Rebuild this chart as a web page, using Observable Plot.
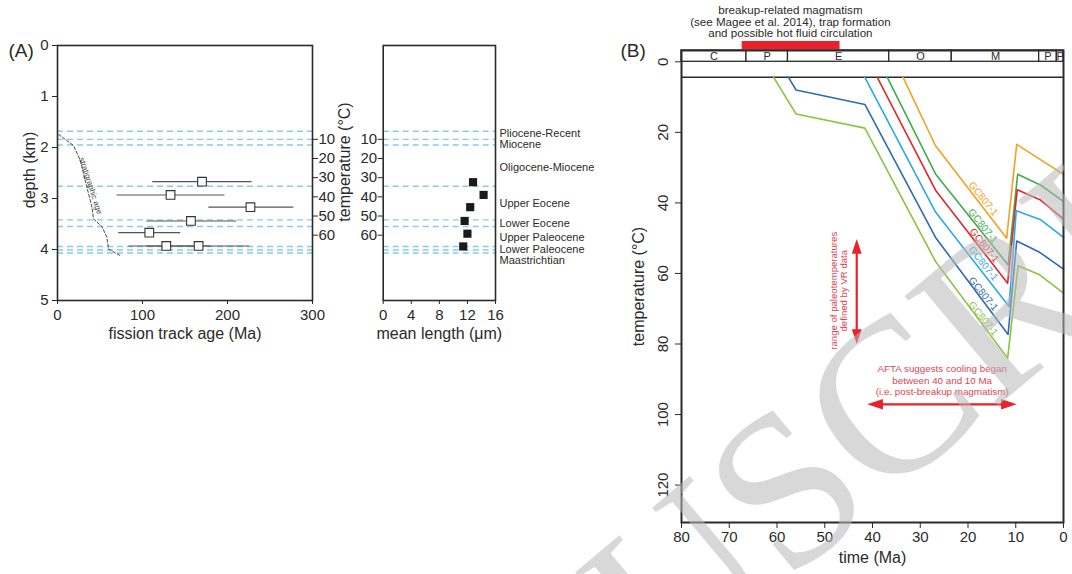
<!DOCTYPE html>
<html><head><meta charset="utf-8">
<script src="https://cdn.jsdelivr.net/npm/d3@7"></script>
<script src="https://cdn.jsdelivr.net/npm/@observablehq/plot@0.6"></script>
<style>
body{margin:0;background:#fff;}
#wrap{position:relative;width:1072px;height:574px;overflow:hidden;background:#fff;}
.panel{position:absolute;top:0;}
</style></head><body><div id="wrap"></div>
<script>
// ---------- Panel A data ----------
const depthTicks = [0, 1, 2, 3, 4, 5];
const ageTicks = [0, 100, 200, 300];
const lengthTicks = [0, 4, 8, 12, 16];
const tempTicksA = [10, 20, 30, 40, 50, 60];
const zeroDegDepthKm = 1.464;      // depth of 0 °C on the temperature scale
const gradientCPerKm = 26.6;       // present geothermal gradient
const horizonDepths = [1.68, 1.84, 1.95, 2.76, 3.42, 3.55, 3.94, 4.01, 4.07];
const epochNames = ["Pliocene-Recent", "Miocene", "Oligocene-Miocene", "Upper Eocene", "Lower Eocene", "Upper Paleocene", "Lower Paleocene", "Maastrichtian"];
const epochLabelDepths = [1.73, 1.94, 2.39, 3.10, 3.49, 3.77, 3.99, 4.21];
const stratAgeMa = [1.2, 18.8, 26.7, 34.6, 40.5, 42.4, 52.2, 58.1, 60.0, 73.8];
const stratAgeDepth = [1.745, 1.96, 2.25, 2.78, 3.17, 3.40, 3.55, 3.76, 3.99, 4.12];
const ftDepth = [2.67, 2.93, 3.17, 3.44, 3.67, 3.93, 3.93];
const ftAge = [170, 133, 227, 157, 108, 128, 166];
const ftAgeLow = [112, 70, 178, 105, 72, 84, 105];
const ftAgeHigh = [229, 197, 278, 211, 145, 180, 226];
const mtlDepth = [2.68, 2.93, 3.17, 3.44, 3.69, 3.94];
const mtlLength = [12.8, 14.3, 12.4, 11.6, 12.0, 11.4];

// ---------- Panel B data ----------
const timeTicks = [80, 70, 60, 50, 40, 30, 20, 10, 0];
const tempTicksB = [0, 20, 40, 60, 80, 100, 120];
const periodNames = ["C", "P", "E", "O", "M", "P", "P"];
const periodStart = [80, 66.4, 57.7, 36.5, 23.4, 5.1, 1.4];
const periodEnd = [66.4, 57.7, 36.5, 23.4, 5.1, 1.4, 0];
const surfaceTemp = 4.4;
const magmatismStart = 67.3, magmatismEnd = 46.8;
const magmatismText = "breakup-related magmatism\n(see Magee et al. 2014), trap formation\nand possible hot fluid circulation";
const seriesLabel = "GC807-1";
const seriesColors = ["#f4a021", "#3fab4c", "#e2262e", "#2aaae2", "#2d6cb3", "#8cc43f"];
const seriesTimes = [
  [33.6, 26.8, 11.9, 9.8, 4.75, 0],
  [36.9, 26.8, 11.6, 9.6, 4.75, 0],
  [39.0, 26.8, 11.7, 9.7, 4.8, 0],
  [41.6, 26.8, 11.4, 9.9, 4.75, 0],
  [57.6, 56.0, 41.6, 26.8, 11.6, 9.8, 5.0, 0],
  [60.7, 56.0, 41.6, 26.8, 11.7, 9.5, 5.0, 0]
];
const seriesTemps = [
  [4.4, 23.8, 50.0, 23.4, 27.8, 31.9],
  [4.4, 31.8, 57.6, 31.9, 35.0, 39.6],
  [4.4, 36.4, 62.8, 36.3, 39.2, 44.6],
  [4.4, 42.6, 69.4, 42.2, 44.8, 49.8],
  [4.4, 8.0, 12.1, 49.8, 77.3, 50.8, 54.0, 58.8],
  [4.4, 14.8, 18.8, 56.6, 84.0, 57.8, 60.4, 65.6]
];
const labelTimes = [16.8, 16.9, 16.6, 16.8, 16.8, 16.8];
const labelTemps = [38.8, 46.5, 52.0, 57.2, 65.8, 72.8];
const vrTime = 43.3, vrTempRange = [50.2, 80.0];
const vrText = "range of paleotemperatures\ndefined by VR data";
const aftaTemp = 97.1, aftaTimeRange = [41.1, 9.8];
const aftaText = "AFTA suggests cooling began\nbetween 40 and 10 Ma\n(i.e. post-breakup magmatism)";
const watermarkText = "USCRIPT";

// ---------- styling ----------
const FONT = '"Liberation Sans", Arial, Helvetica, sans-serif';
const DARK = "#2a2a2a";
const CYAN = "#86cde0";
const RED = "#e8222b";
const RED_TEXT = "#de4550";
const baseStyle = {fontFamily: FONT, fontSize: "15px", color: DARK, background: "transparent", overflow: "visible"};
const C = {textAnchor: "middle", lineAnchor: "middle"};

const tempToDepth = t => zeroDegDepthKm + t / gradientCPerKm;
const depthToTemp = d => Math.round((d - zeroDegDepthKm) * gradientCPerKm);

const ftData = ftDepth.map((d, i) => ({depth: d, age: ftAge[i], lo: ftAgeLow[i], hi: ftAgeHigh[i]}));
const mtlData = mtlDepth.map((d, i) => ({depth: d, len: mtlLength[i]}));
const stratData = stratAgeMa.map((a, i) => ({age: a, depth: stratAgeDepth[i]}));
const epochData = epochNames.map((n, i) => ({name: n, depth: epochLabelDepths[i]}));
const periods = periodNames.map((n, i) => ({name: n, start: periodStart[i], end: periodEnd[i]}));
const pathData = seriesTimes.flatMap((ts, s) => ts.map((t, j) => ({s, t, T: seriesTemps[s][j], color: seriesColors[s]})));
const labelData = labelTimes.map((t, i) => ({t, T: labelTemps[i], color: seriesColors[i]}));

// arrow heads: tip at the origin
const head = (dx, dy) => ({draw(ctx, size) {
  const s = Math.sqrt(size / Math.PI);
  const L = 2.7 * s, W = 0.9 * s;
  ctx.moveTo(0, 0);
  if (dx === 0) { ctx.lineTo(-W, dy * L); ctx.lineTo(W, dy * L); }
  else { ctx.lineTo(dx * L, -W); ctx.lineTo(dx * L, W); }
  ctx.closePath();
}});
const headUp = head(0, 1), headDown = head(0, -1), headLeft = head(1, 0), headRight = head(-1, 0);

// ---------- Panel A: fission track age ----------
const A1 = Plot.plot({
  width: 345, height: 350,
  marginLeft: 57, marginRight: 33, marginTop: 45, marginBottom: 50,
  x: {domain: [0, 300]},
  y: {domain: [0, 5], reverse: true},
  style: baseStyle,
  marks: [
    Plot.ruleY(horizonDepths, {stroke: CYAN, strokeDasharray: "6,4", strokeWidth: 1.4}),
    Plot.line(stratData, {x: "age", y: "depth", stroke: "#333", strokeDasharray: "3,2", strokeWidth: 0.9}),
    Plot.text(["stratigraphic age"], {x: 39, y: 2.75, text: d => d, rotate: 72, fontSize: 8, fill: "#444", ...C}),
    Plot.ruleY(ftData, {y: "depth", x1: "lo", x2: "hi", stroke: "#555", strokeWidth: 1.1}),
    Plot.dot(ftData, {x: "age", y: "depth", symbol: "square", r: 4.9, fill: "white", stroke: "#333", strokeWidth: 1.1}),
    Plot.frame({stroke: DARK, strokeWidth: 1.6}),
    Plot.axisX({ticks: ageTicks, tickFormat: d => String(d), tickSize: 4, fontSize: 15, label: null}),
    Plot.axisY({ticks: depthTicks, tickFormat: d => String(d), tickSize: 5, fontSize: 15, label: null}),
    Plot.axisY({anchor: "right", ticks: tempTicksA.map(tempToDepth), tickFormat: depthToTemp, tickSize: 5, tickPadding: 1, fontSize: 15, label: null}),
    Plot.text(["depth (km)"], {frameAnchor: "left", text: d => d, rotate: -90, dx: -28, dy: -3, fontSize: 16, ...C}),
    Plot.text(["fission track age (Ma)"], {frameAnchor: "bottom", text: d => d, dy: 33, fontSize: 16, ...C}),
    Plot.text(["(A)"], {frameAnchor: "top-left", text: d => d, dx: -49, dy: 5, fontSize: 19, textAnchor: "start", lineAnchor: "middle"})
  ]
});

// ---------- Panel A: mean track length ----------
const A2 = Plot.plot({
  width: 270, height: 350,
  marginLeft: 42.7, marginRight: 115, marginTop: 45, marginBottom: 50,
  x: {domain: [0, 16]},
  y: {domain: [0, 5], reverse: true},
  style: baseStyle,
  marks: [
    Plot.ruleY(horizonDepths, {stroke: CYAN, strokeDasharray: "6,4", strokeWidth: 1.4}),
    Plot.dot(mtlData, {x: "len", y: "depth", symbol: "square", r: 4.6, fill: "#1a1a1a"}),
    Plot.frame({stroke: DARK, strokeWidth: 1.6}),
    Plot.axisX({ticks: lengthTicks, tickFormat: d => String(d), tickSize: 4, fontSize: 15, label: null}),
    Plot.axisY({ticks: tempTicksA.map(tempToDepth), tickFormat: depthToTemp, tickSize: 5, tickPadding: 1, fontSize: 15, label: null}),
    Plot.text(["temperature (°C)"], {frameAnchor: "left", text: d => d, rotate: -90, dx: -38, dy: -11, fontSize: 16, ...C}),
    Plot.text(epochData, {x: 16, y: "depth", text: "name", dx: 4, textAnchor: "start", lineAnchor: "middle", fontSize: 11}),
    Plot.text(["mean length (μm)"], {frameAnchor: "bottom", text: d => d, dy: 33, fontSize: 16, ...C})
  ]
});

// ---------- Panel B: thermal history ----------
const yTopB = -3.2, yBotB = 130.6;
const B = Plot.plot({
  width: 472, height: 574,
  marginLeft: 81, marginRight: 9, marginTop: 50, marginBottom: 52,
  x: {domain: [80, 0]},
  y: {domain: [yTopB, yBotB], reverse: true},
  style: baseStyle,
  marks: [
    Plot.ruleY([surfaceTemp], {stroke: DARK, strokeWidth: 1.6}),
    Plot.rect(periods, {x1: "start", x2: "end", y1: yTopB, y2: 0, stroke: DARK, strokeWidth: 1.3, fill: "white"}),
    Plot.text(periods, {x: d => (d.start + d.end) / 2, y: yTopB / 2, text: "name", fontSize: 11, ...C}),
    Plot.rect([magmatismText], {x1: magmatismStart, x2: magmatismEnd, y1: -5.75, y2: -3.35, fill: RED}),
    Plot.text([magmatismText], {x: 57.2, y: -11.3, text: d => d, fontSize: 11.6, lineHeight: 0.98, fill: DARK, ...C}),
    Plot.line(pathData, {x: "t", y: "T", z: "s", stroke: "color", strokeWidth: 1.6}),
    Plot.text(labelData, {x: "t", y: "T", text: () => seriesLabel, fill: "color", rotate: 51, fontSize: 10, ...C}),
    Plot.ruleX([vrTime], {y1: vrTempRange[0] + 2, y2: vrTempRange[1] - 2, stroke: RED, strokeWidth: 2.2}),
    Plot.dot([vrTempRange[0]], {x: vrTime, y: d => d, symbol: headUp, r: 5.5, fill: RED, stroke: "none"}),
    Plot.dot([vrTempRange[1]], {x: vrTime, y: d => d, symbol: headDown, r: 5.5, fill: RED, stroke: "none"}),
    Plot.text([vrText], {x: 47.1, y: 64.9, text: d => d, rotate: -90, fill: RED_TEXT, fontSize: 9.6, lineHeight: 1.12, ...C}),
    Plot.ruleY([aftaTemp], {x1: aftaTimeRange[0] - 2, x2: aftaTimeRange[1] + 2, stroke: RED, strokeWidth: 2.2}),
    Plot.dot([aftaTimeRange[0]], {x: d => d, y: aftaTemp, symbol: headLeft, r: 5.8, fill: RED, stroke: "none"}),
    Plot.dot([aftaTimeRange[1]], {x: d => d, y: aftaTemp, symbol: headRight, r: 5.8, fill: RED, stroke: "none"}),
    Plot.text([aftaText], {x: 25.4, y: 90.2, text: d => d, fill: RED_TEXT, fontSize: 9.8, lineHeight: 1.18, ...C}),
    Plot.frame({stroke: DARK, strokeWidth: 2}),
    Plot.axisX({ticks: timeTicks, tickFormat: d => String(d), tickSize: 6, fontSize: 15, label: null}),
    Plot.axisY({ticks: tempTicksB, tickSize: 6, tickFormat: () => "", label: null}),
    Plot.text(tempTicksB, {frameAnchor: "left", y: d => d, text: d => String(d), rotate: -90, dx: -18, fontSize: 15, ...C}),
    Plot.text(["temperature (°C)"], {frameAnchor: "left", text: d => d, rotate: -90, dx: -43, fontSize: 16, ...C}),
    Plot.text(["time (Ma)"], {frameAnchor: "bottom", text: d => d, dy: 35, fontSize: 16, ...C}),
    Plot.text(["(B)"], {frameAnchor: "top-left", text: d => d, dx: -61, dy: 0, fontSize: 19, textAnchor: "start", lineAnchor: "middle"}),
    Plot.text([watermarkText], {x: 20.5, y: 79.1, text: d => d, rotate: -40, fontSize: 220, fontFamily: "Liberation Serif, Times New Roman, serif", fill: "#b8b8b8", fillOpacity: 0.55, ...C})
  ]
});

const wrap = document.getElementById("wrap");
[[A1, 0], [A2, 340], [B, 600]].forEach(([svg, left]) => {
  const div = document.createElement("div");
  div.className = "panel";
  div.style.left = left + "px";
  div.appendChild(svg);
  wrap.appendChild(div);
});
</script></body></html>
